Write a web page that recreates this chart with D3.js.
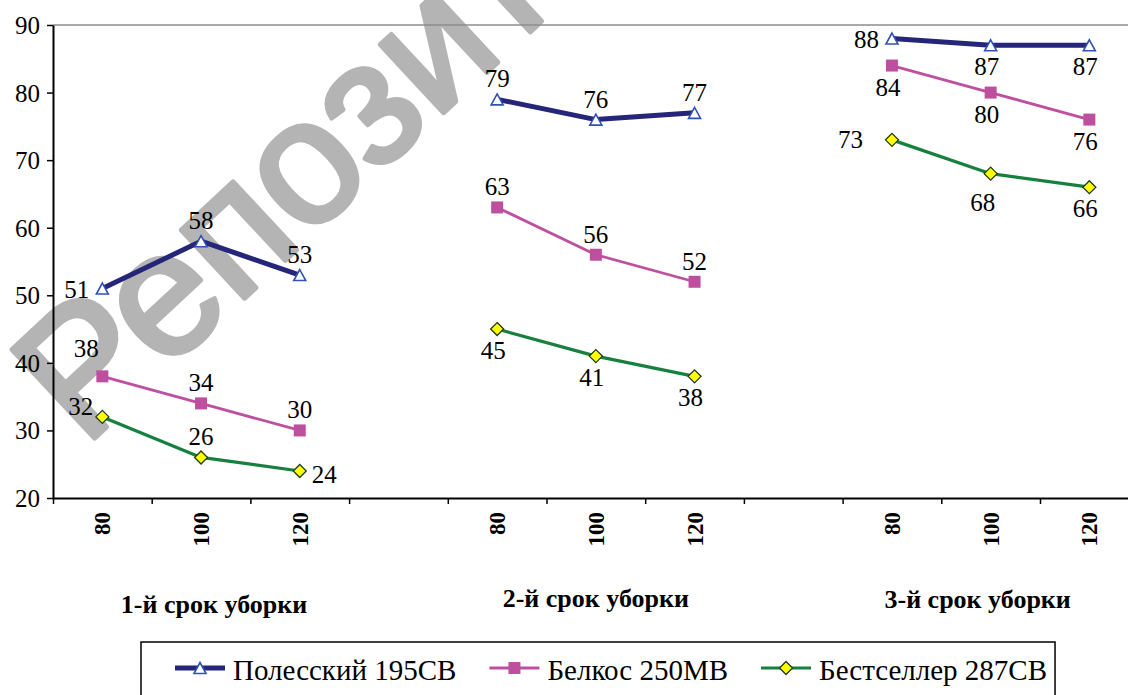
<!DOCTYPE html>
<html>
<head>
<meta charset="utf-8">
<script src="https://cdn.jsdelivr.net/npm/d3@7"></script>
<style>
  body { margin: 0; background: #fff; }
  svg { display: block; }
  .serif { font-family: 'Liberation Serif', 'Times New Roman', Times, serif; }
</style>
</head>
<body>
<svg id="chart" width="1128" height="695"></svg>
<script>
// данные
const categories = ['80', '100', '120', '', '80', '100', '120', '', '80', '100', '120'];
const groups = ['1-й срок уборки', '2-й срок уборки', '3-й срок уборки'];
const groupMid = [1, 5, 9];
const seriesNames = ['Полесский 195СВ', 'Белкос 250МВ', 'Бестселлер 287СВ'];
const polessky = [51, 58, 53, null, 79, 76, 77, null, 88, 87, 87];
const belkos = [38, 34, 30, null, 63, 56, 52, null, 84, 80, 76];
const bestseller = [32, 26, 24, null, 45, 41, 38, null, 73, 68, 66];
const yTicks = [20, 30, 40, 50, 60, 70, 80, 90];

// где подписи: a - сверху, b - снизу, l - слева, r - справа
const labelPos = [
  ['l', 'a', 'a', '', 'a', 'a', 'a', '', 'l', 'b', 'b'],
  ['al', 'a', 'a', '', 'a', 'a', 'a', '', 'b', 'b', 'b'],
  ['lu', 'a', 'r', '', 'b', 'b', 'b', '', 'll', 'bl', 'b']
];

const PADDING_LEFT = 53;
const PADDING_TOP = 25;
const AXIS_Y = 498;
const STEP = 98.7;

const styles = [
  { line: '#25257a', width: 5, marker: 'triangle', fill: '#fff', stroke: '#3152b4', sw: 1.6 },
  { line: '#bf50a0', width: 2.8, marker: 'square', fill: '#bd4f9e', stroke: 'none', sw: 0 },
  { line: '#17803f', width: 3.2, marker: 'diamond', fill: '#ffff00', stroke: '#1d3a1d', sw: 1.3 }
];

const svg = d3.select('#chart');

// водяной знак
svg.append('text')
  .text('Репозиторий')
  .attr('transform', 'translate(84,448) rotate(-43)')
  .style('font-family', "'Liberation Sans', Arial, sans-serif")
  .style('font-size', '176px')
  .attr('fill', '#b4b4b4')
  .attr('stroke', '#b4b4b4')
  .attr('stroke-width', 5)
  .attr('stroke-linejoin', 'round');

const x = d3.scaleBand()
  .domain(d3.range(categories.length))
  .range([PADDING_LEFT, PADDING_LEFT + STEP * categories.length]);

const xEdge = d3.scaleLinear()
  .domain([0, categories.length])
  .range([PADDING_LEFT, PADDING_LEFT + STEP * categories.length]);

const y = d3.scaleLinear()
  .domain([20, 90])
  .range([AXIS_Y, PADDING_TOP]);

const g = svg.append('g');

// линия сетки на 90
g.append('line')
  .attr('x1', PADDING_LEFT)
  .attr('x2', xEdge.range()[1])
  .attr('y1', y(90))
  .attr('y2', y(90))
  .attr('stroke', '#8c8c8c')
  .attr('stroke-width', 1.5);

// ось Y
const yAxis = g.append('g')
  .attr('transform', `translate(${PADDING_LEFT},0)`)
  .call(d3.axisLeft(y).tickValues(yTicks).tickSize(6).tickSizeOuter(0).tickPadding(7));
yAxis.attr('font-family', null).attr('font-size', null);
yAxis.select('.domain').attr('stroke', '#000').attr('stroke-width', 2);
yAxis.selectAll('.tick line').attr('stroke', '#000').attr('stroke-width', 1.5);
yAxis.selectAll('.tick text')
  .attr('class', 'serif')
  .style('font-size', '25px')
  .attr('fill', '#000')
  .attr('dy', '0.34em');

// ось X (деления на границах категорий)
const xAxis = g.append('g')
  .attr('transform', `translate(0,${AXIS_Y})`)
  .call(d3.axisBottom(xEdge).tickValues(d3.range(categories.length + 1)).tickFormat('').tickSize(6).tickSizeOuter(0));
xAxis.select('.domain').attr('stroke', '#000').attr('stroke-width', 2);
xAxis.selectAll('.tick line').attr('stroke', '#000').attr('stroke-width', 1.5);

// подписи категорий
g.selectAll('.cat')
  .data(categories)
  .enter()
  .append('text')
  .attr('class', 'cat serif')
  .text(d => d)
  .attr('transform', (d, i) => `translate(${x(i) + x.bandwidth() / 2 + 8},512) rotate(-90)`)
  .attr('text-anchor', 'end')
  .style('font-weight', 'bold')
  .style('font-size', '23px')
  .attr('fill', '#000');

// подписи сроков уборки
const groupShift = [13, 0, -13];
const groupBase = [613, 607, 608];
g.selectAll('.grp')
  .data(groups)
  .enter()
  .append('text')
  .attr('class', 'grp serif')
  .text(d => d)
  .attr('x', (d, i) => x(groupMid[i]) + x.bandwidth() / 2 + groupShift[i])
  .attr('y', (d, i) => groupBase[i])
  .attr('text-anchor', 'middle')
  .style('font-weight', 'bold')
  .style('font-size', '26px')
  .attr('fill', '#000');

const allSeries = [polessky, belkos, bestseller];
const cx = i => x(i) + x.bandwidth() / 2;

const line = d3.line()
  .defined(d => d.v !== null)
  .x(d => cx(d.i))
  .y(d => y(d.v));

function markerPath(type) {
  if (type === 'triangle') return 'M0,-5.5L6,5.5L-6,5.5Z';
  if (type === 'square') return 'M-6,-6H6V6H-6Z';
  return 'M0,-6.5L6.5,0L0,6.5L-6.5,0Z';
}

allSeries.forEach((values, s) => {
  const pts = values.map((v, i) => ({ v: v, i: i }));
  const st = styles[s];
  g.append('path')
    .attr('d', line(pts))
    .attr('fill', 'none')
    .attr('stroke', st.line)
    .attr('stroke-width', st.width)
    .attr('stroke-linejoin', 'round');

  g.selectAll('.m' + s)
    .data(pts.filter(d => d.v !== null))
    .enter()
    .append('path')
    .attr('class', 'm' + s)
    .attr('d', markerPath(st.marker))
    .attr('transform', d => `translate(${cx(d.i)},${y(d.v)})`)
    .attr('fill', st.fill)
    .attr('stroke', st.stroke)
    .attr('stroke-width', st.sw);
});

// подписи значений
const offsets = {
  a: [0, -12, 'middle'],
  b: [-4, 30, 'middle'],
  bl: [-8, 37, 'middle'],
  l: [-13, 9, 'end'],
  lu: [-9, -2, 'end'],
  ll: [-29, 8, 'end'],
  r: [12, 12, 'start'],
  al: [-16, -19, 'middle']
};
allSeries.forEach((values, s) => {
  values.forEach((v, i) => {
    if (v === null) return;
    const o = offsets[labelPos[s][i]];
    g.append('text')
      .attr('class', 'serif')
      .text(v)
      .attr('x', cx(i) + o[0])
      .attr('y', y(v) + o[1])
      .attr('text-anchor', o[2])
      .style('font-size', '25px')
      .attr('fill', '#000');
  });
});

// легенда
const legend = svg.append('g');
const legendBox = legend.append('rect')
  .attr('x', 141)
  .attr('y', 642)
  .attr('height', 80)
  .attr('fill', '#fff')
  .attr('stroke', '#000')
  .attr('stroke-width', 1.5);

let lx = 175;
seriesNames.forEach((name, s) => {
  const st = styles[s];
  legend.append('line')
    .attr('x1', lx)
    .attr('x2', lx + 50)
    .attr('y1', 668)
    .attr('y2', 668)
    .attr('stroke', st.line)
    .attr('stroke-width', st.width);
  legend.append('path')
    .attr('d', markerPath(st.marker))
    .attr('transform', `translate(${lx + 25},668)`)
    .attr('fill', st.fill)
    .attr('stroke', st.stroke)
    .attr('stroke-width', st.sw);
  const t = legend.append('text')
    .attr('class', 'serif')
    .text(name)
    .attr('x', lx + 58)
    .attr('y', 680)
    .style('font-size', '29px')
    .attr('fill', '#000');
  lx = lx + 58 + t.node().getComputedTextLength() + 33;
});
legendBox.attr('width', lx - 33 + 8 - 141);
</script>
</body>
</html>
